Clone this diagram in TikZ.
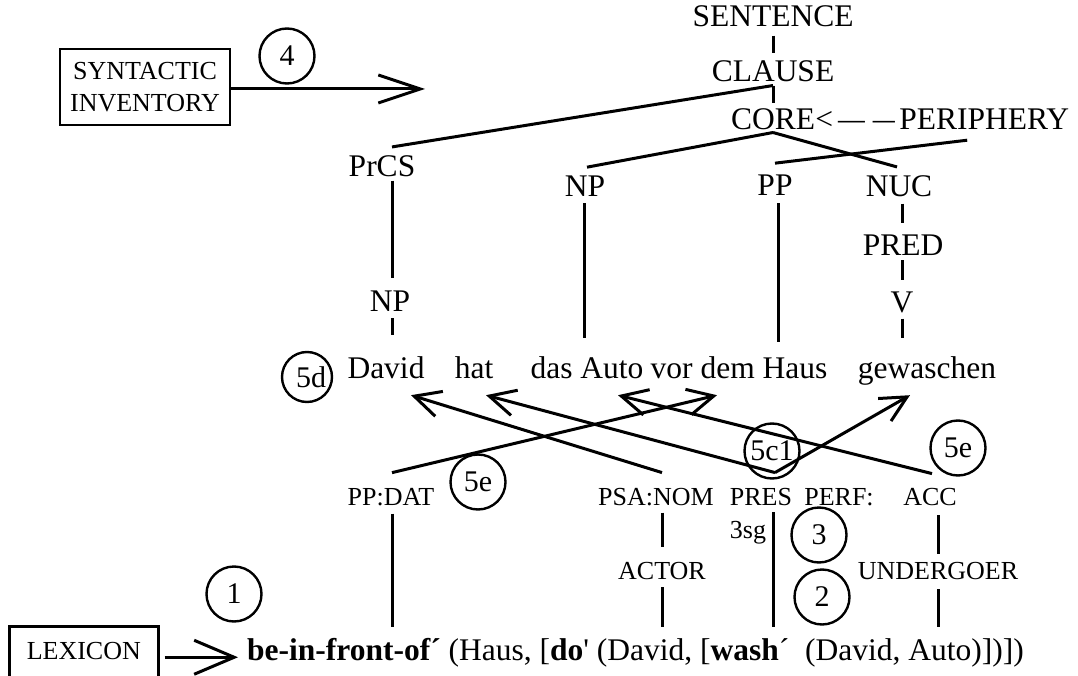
\documentclass[tikz,border=0pt]{standalone}
\usepackage{fontspec}
\setmainfont{Liberation Serif}
\usetikzlibrary{arrows.meta}
\begin{document}
\begin{tikzpicture}[x=1pt,y=-1pt,
  tl/.style={font=\fontsize{31.5}{36}\selectfont, inner sep=0pt, anchor=base},
  wd/.style={tl, text height=22pt, text depth=7pt},
  sl/.style={font=\fontsize{26}{30}\selectfont, inner sep=0pt, anchor=base},
  num/.style={draw, circle, line width=2.4pt, minimum size=55pt, inner sep=0pt, font=\fontsize{30}{34}\selectfont},
  ln/.style={line width=3pt},
  marr/.style={line width=3pt, -{Straight Barb[length=26pt,width=26pt]}},
  bigarr/.style={line width=3pt, -{Straight Barb[length=42pt,width=28pt]}},
  lexarr/.style={line width=3pt, -{Straight Barb[length=40pt,width=34pt]}},
  boxed/.style={draw, line width=2.6pt}]
\useasboundingbox (0,0) rectangle (1078,676);
\clip (0,0) rectangle (1078,676);

% ---- tree labels
\node[tl] (sentence) at (773,27) {SENTENCE};
\node[tl] (clause) at (773,82) {CLAUSE};
\node[tl] (core) at (773,130) {CORE};
\node[tl, anchor=base west] (cpd) at (core.base east)
  {<\kern5pt\scalebox{0.85}[1]{—}\kern8pt\scalebox{0.7}[1]{—}\kern4pt};
\node[tl, anchor=base west] (periphery) at (cpd.base east) {PERIPHERY};
\node[tl] (prcs) at (382,177) {PrCS};
\node[tl] (npm) at (585,197) {NP};
\node[tl] (pp) at (775,196) {PP};
\node[tl] (nuc) at (899,197) {NUC};
\node[tl] (pred) at (903,255) {PRED};
\node[tl] (npl) at (390,311) {NP};
\node[tl] (v) at (902,312) {V};

% ---- sentence words
\node[wd] (david) at (386,378) {David};
\node[wd] (hat) at (474,378) {hat};
\node[wd] (dasauto) at (587,378) {das Auto};
\node[wd] (vordem) at (739,378) {vor dem Haus};
\node[wd] (gewaschen) at (927,378) {gewaschen};

% ---- tree lines
\draw[ln] ([yshift=-8pt]sentence.south) -- ([yshift=8pt]clause.north);
\draw[ln] ([yshift=-3pt]clause.south) -- ([yshift=6pt]core.north);
\draw[ln] ([yshift=-3pt]clause.south) -- ([xshift=10pt,yshift=9pt]prcs.north);
\draw[ln] ([xshift=10pt,yshift=-3pt]prcs.south) -- ([xshift=2pt,yshift=12pt]npl.north);
\draw[ln] ([xshift=2pt,yshift=-7pt]npl.south) -- ([xshift=6pt,yshift=21pt]david.north);
\draw[ln] ([yshift=-2pt]core.south) -- ([xshift=2pt,yshift=9pt]npm.north);
\draw[ln] ([yshift=-2pt]core.south) -- ([xshift=-2pt,yshift=9pt]nuc.north);
\draw[ln] ([xshift=68pt,yshift=-10pt]periphery.south west) -- ([yshift=12pt]pp.north);
\draw[ln] ([xshift=-1pt,yshift=-6pt]npm.south) -- ([xshift=-1pt,yshift=18pt]npm.south |- dasauto.north);
\draw[ln] ([xshift=3pt,yshift=-7pt]pp.south) -- ([xshift=3pt,yshift=14pt]pp.south |- vordem.north);
\draw[ln] ([xshift=3pt,yshift=-6pt]nuc.south) -- ([xshift=3pt,yshift=11pt]nuc.south |- pred.north);
\draw[ln] ([xshift=-1pt,yshift=-5pt]pred.south) -- ([yshift=11pt]v.north);
\draw[ln] ([yshift=-6pt]v.south) -- ([yshift=18pt]v.south |- gewaschen.north);

% ---- syntactic inventory
\node[boxed, minimum width=170pt, minimum height=76pt, align=center,
      font=\fontsize{26}{32}\selectfont, inner sep=0pt] (synt) at (145,87) {SYNTACTIC\\INVENTORY};
\coordinate (stip) at (425,89);
\draw[bigarr] ([yshift=-2pt]synt.east) -- (stip);

% ---- lower labels
\node[sl] (ppdat) at (391,505) {PP:DAT};
\node[sl] (psanom) at (656,505) {PSA:NOM};
\node[sl] (pres) at (761,505) {PRES};
\node[sl] (perf) at (839,505) {PERF:};
\node[sl] (acc) at (930,505) {ACC};
\node[sl] (s3sg) at (748,538) {3sg};
\node[sl] (actor) at (662,579) {ACTOR};
\node[sl] (undergoer) at (938,579) {UNDERGOER};

% ---- formula and lexicon
\node[tl, anchor=base west] (formula) at (247,660)
  {\textbf{be-in-front-of´} (Haus, [\textbf{do}\textquotesingle{} (David, [\textbf{wash}´~ (David, Auto)])])};
\node[boxed, anchor=north west, minimum width=149pt, text height=17pt, text depth=40pt,
      inner ysep=16pt, inner xsep=0pt, font=\fontsize{26}{30}\selectfont] (lexicon) at (8,625) {LEXICON};
\draw[lexarr] ([xshift=5pt,yshift=-5pt]lexicon.east |- formula.west) -- ([xshift=-9pt,yshift=-5pt]formula.west);

% ---- vertical links in lower part
\draw[ln] ([xshift=1pt,yshift=-8pt]ppdat.south) -- ([xshift=1pt,yshift=11pt]ppdat.south |- formula.north);
\draw[ln] ([yshift=-7pt]actor.north |- psanom.south) -- ([yshift=15pt]actor.north);
\draw[ln] ([yshift=-8pt]actor.south) -- ([yshift=11pt]actor.south |- formula.north);
\draw[ln] ([xshift=12pt,yshift=-7pt]pres.south) -- ([xshift=12pt,yshift=11pt]pres.south |- formula.north);
\draw[ln] ([yshift=-10pt]undergoer.north |- acc.south) -- ([yshift=8pt]undergoer.north);
\draw[ln] ([yshift=-10pt]undergoer.south) -- ([yshift=11pt]undergoer.south |- formula.north);

% ---- linking arrows
\draw[marr] ([xshift=1pt,yshift=15pt]ppdat.north) -- ([xshift=-22pt,yshift=-10pt]vordem.south);
\draw[marr] ([yshift=15pt]actor.north |- psanom.north) -- ([xshift=25pt,yshift=-10pt]david.south);
\draw[marr] ([xshift=14pt,yshift=15pt]pres.north) -- ([xshift=12pt,yshift=-10pt]hat.south);
\draw[marr] ([xshift=14pt,yshift=15pt]pres.north) -- ([xshift=-17pt,yshift=-10pt]gewaschen.south);
\draw[marr] ([xshift=2pt,yshift=14pt]acc.north) -- ([xshift=31pt,yshift=-10pt]dasauto.south);

% ---- numbered circles
\node[num] (c4) at (287,56) {4};
\node[num, minimum size=50pt] (c5d) at (307,377) {\kern8pt5d};
\node[num] (c5el) at (478,482) {5e};
\node[num] (c5c1) at (772,451) {5c1};
\node[num] (c5er) at (958,448) {5e};
\node[num] (c3) at (819,535) {3};
\node[num] (c2) at (822,597) {2};
\node[num] (c1) at (234,594) {1};
\end{tikzpicture}
\end{document}
